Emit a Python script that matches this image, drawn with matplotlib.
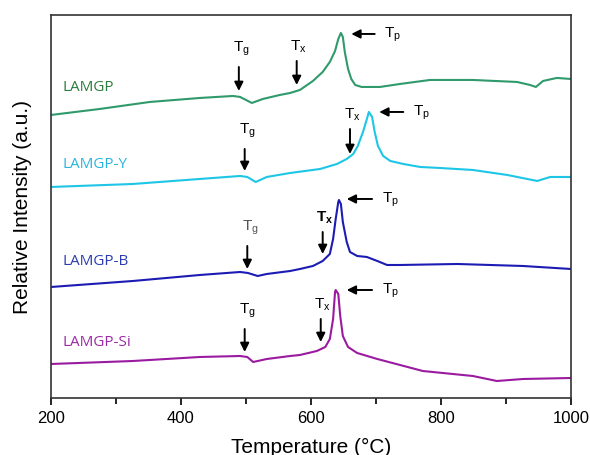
import matplotlib.pyplot as plt
from matplotlib.ticker import MultipleLocator

plt.rcParams['font.family'] = ['Liberation Sans', 'DejaVu Sans']

# curves (temperature in °C, relative intensity in a.u.)
t_lamgp = [200, 275, 352, 429, 480, 491, 509, 526, 552, 568, 583, 603, 618, 629, 637, 642,
           646, 649, 652, 657, 662, 668, 678, 706, 737, 783, 849, 917, 937, 946, 957, 978, 1000]
i_lamgp = [283, 289, 296, 300, 302, 301, 295, 299, 303, 305, 308, 317, 326, 336, 347, 359,
           365, 361, 346, 329, 319, 313, 311, 311, 314, 318, 318, 316, 313, 311, 317, 320, 319]

t_y = [200, 326, 429, 491, 502, 515, 532, 568, 614, 640, 655, 665, 672, 680, 686, 689,
       694, 698, 703, 711, 722, 742, 768, 798, 849, 902, 948, 968, 1000]
i_y = [211, 214, 219, 222, 221, 216, 221, 225, 229, 234, 239, 244, 252, 266, 279, 286,
       281, 266, 252, 242, 237, 234, 231, 230, 228, 223, 217, 221, 221]

t_b = [200, 326, 429, 491, 503, 518, 532, 568, 583, 603, 618, 629, 634, 638, 642, 643,
       646, 649, 655, 660, 671, 686, 702, 717, 737, 825, 926, 1000]
i_b = [111, 117, 123, 126, 125, 122, 124, 127, 129, 132, 137, 144, 159, 179, 196, 198,
       194, 176, 156, 146, 142, 141, 137, 133, 133, 134, 132, 129]

t_si = [200, 326, 429, 491, 502, 511, 532, 568, 583, 609, 622, 629, 634, 637, 638, 642,
        645, 649, 657, 671, 702, 737, 772, 849, 886, 926, 1000]
i_si = [34, 37, 41, 42, 41, 36, 39, 42, 43, 47, 51, 59, 79, 106, 108, 104,
        82, 62, 51, 45, 39, 33, 27, 22, 17, 19, 20]

names = ['LAMGP', 'LAMGP-Y', 'LAMGP-B', 'LAMGP-Si']
line_colors = ['#2f9a6b', '#1ec6e6', '#1c1cb4', '#9b1ba0']
text_colors = ['#2a7d3c', '#2ab5dc', '#2a3cb0', '#9a2aa5']
label_y = [311, 234, 137, 56]

# Tg, Tx and Tp marks: (temperature, arrow tail, arrow tip) for the vertical ones
tg_marks = [(489, 331, 307), (498, 249, 227), (502, 152, 129), (498, 69, 46)]
tx_marks = [(578, 337, 313), (660, 269, 244), (618, 166, 144), (615, 79, 56)]
# Tp: (tail temperature, tip temperature, height)
tp_marks = [(698, 662, 364), (742, 705, 286), (694, 655, 199), (694, 655, 108)]

fig = plt.figure(figsize=(5.9, 4.56), dpi=100)
ax = fig.add_axes([0.0864, 0.125, 0.8814, 0.84])

for t, i, c in zip([t_lamgp, t_y, t_b, t_si], [i_lamgp, i_y, i_b, i_si], line_colors):
    ax.plot(t, i, color=c, lw=1.5, solid_joinstyle='round')

for n, c, y in zip(names, text_colors, label_y):
    ax.text(218, y, n, color=c, fontsize=11, family=['Open Sans', 'DejaVu Sans'],
            va='center', ha='left')

arrow = dict(arrowstyle='-|>', color='black', lw=1.4, mutation_scale=13, shrinkA=0, shrinkB=0)

for k, (x, y0, y1) in enumerate(tg_marks):
    ax.annotate('', xy=(x, y1), xytext=(x, y0), arrowprops=arrow)
    ax.text(x + 4, y0 + 10, r'T$_\mathregular{g}$', fontsize=11, ha='center', va='bottom',
            color='#555555' if k == 2 else 'black')

for k, (x, y0, y1) in enumerate(tx_marks):
    ax.annotate('', xy=(x, y1), xytext=(x, y0), arrowprops=arrow)
    ax.text(x + 3, y0 + 7, r'T$_\mathregular{x}$', fontsize=11, ha='center', va='bottom',
            fontweight='bold' if k == 2 else 'normal')

for x0, x1, y in tp_marks:
    ax.annotate('', xy=(x1, y), xytext=(x0, y), arrowprops=arrow)
    ax.text(x0 + 15, y, r'T$_\mathregular{p}$', fontsize=11, ha='left', va='center')

ax.set_xlim(200, 1000)
ax.set_ylim(0, 383)
ax.xaxis.set_major_locator(MultipleLocator(200))
ax.xaxis.set_minor_locator(MultipleLocator(100))
ax.set_yticks([])
ax.tick_params(axis='x', which='major', direction='out', length=5, width=1.2, labelsize=12, pad=4)
ax.tick_params(axis='x', which='minor', direction='out', length=4, width=1.2)
for s in ax.spines.values():
    s.set_linewidth(1.2)
    s.set_color('#333333')

ax.set_xlabel('Temperature (°C)', fontsize=15, labelpad=8)
ax.set_ylabel('Relative Intensity (a.u.)', fontsize=15, labelpad=14)

fig.savefig('out.png', dpi=100)
